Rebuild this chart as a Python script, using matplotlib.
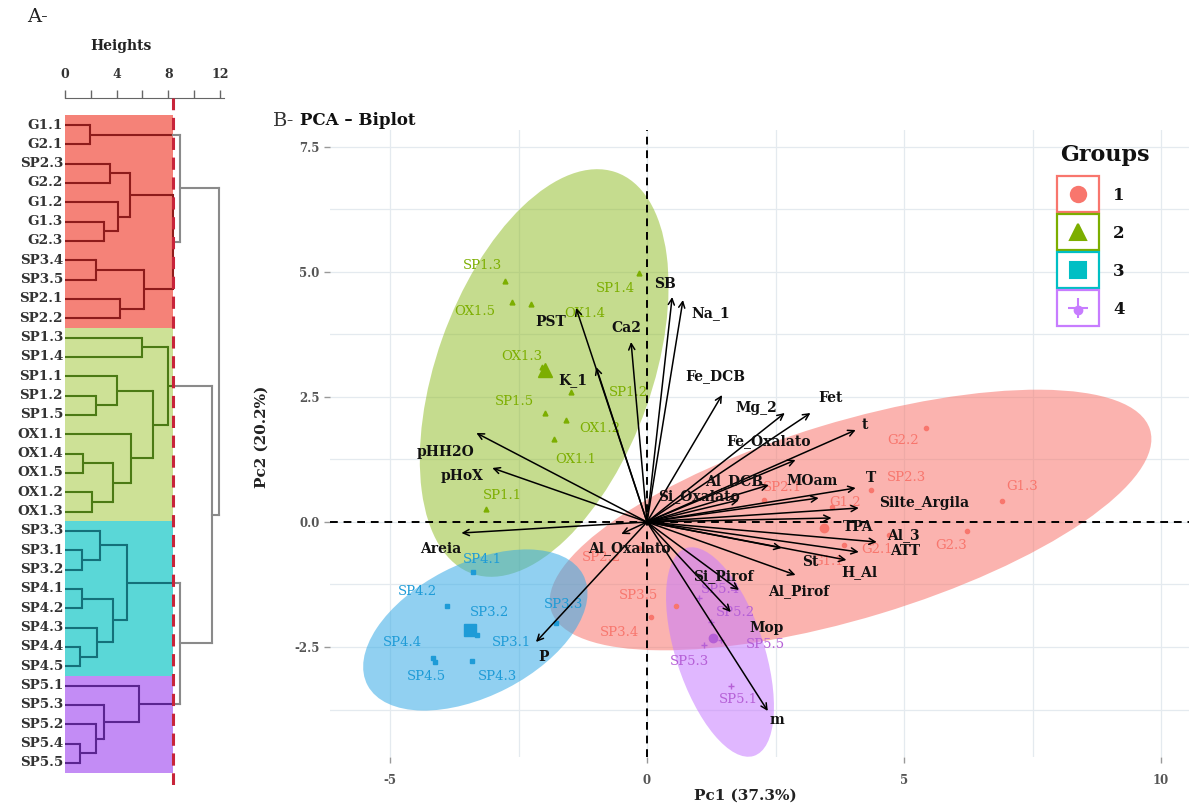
import matplotlib
matplotlib.use('Agg')
import matplotlib.pyplot as plt
from matplotlib.patches import Ellipse, Rectangle
import numpy as np

plt.rcParams['axes.unicode_minus'] = False
W, H = 1189, 809
fig = plt.figure(figsize=(W / 100, H / 100), dpi=100)
SERIF = ['DejaVu Serif']

# ------------------------------------------------------------------ data: dendrogram
leaf_order = ['G1.1', 'G2.1', 'SP2.3', 'G2.2', 'G1.2', 'G1.3', 'G2.3', 'SP3.4', 'SP3.5',
              'SP2.1', 'SP2.2',
              'SP1.3', 'SP1.4', 'SP1.1', 'SP1.2', 'SP1.5', 'OX1.1', 'OX1.4', 'OX1.5',
              'OX1.2', 'OX1.3',
              'SP3.3', 'SP3.1', 'SP3.2', 'SP4.1', 'SP4.2', 'SP4.3', 'SP4.4', 'SP4.5',
              'SP5.1', 'SP5.3', 'SP5.2', 'SP5.4', 'SP5.5']
leaf_group = [1] * 11 + [2] * 10 + [3] * 8 + [4] * 5

# nested merges: (left, right, height)
tree_red = (('G1.1', 'G2.1', 1.9),
            ((('SP2.3', 'G2.2', 3.5), ('G1.2', ('G1.3', 'G2.3', 3.0), 4.1), 5.0),
             (('SP3.4', 'SP3.5', 2.4), ('SP2.1', 'SP2.2', 4.3), 6.1), 8.35),
            8.9)
tree_green = (('SP1.3', 'SP1.4', 6.0),
              (('SP1.1', ('SP1.2', 'SP1.5', 2.4), 4.0),
               ('OX1.1', (('OX1.4', 'OX1.5', 1.4), ('OX1.2', 'OX1.3', 2.1), 3.7), 5.1),
               6.8),
              8.0)
tree_cyan = (('SP3.3', ('SP3.1', 'SP3.2', 1.3), 2.7),
             (('SP4.1', 'SP4.2', 1.3), ('SP4.3', ('SP4.4', 'SP4.5', 1.2), 2.5), 3.7),
             4.8)
tree_purple = ('SP5.1', ('SP5.3', ('SP5.2', ('SP5.4', 'SP5.5', 1.2), 2.4), 3.0), 5.75)
tree_root = (tree_red, (tree_green, (tree_cyan, tree_purple, 8.9), 11.4), 11.9)

cut_height = 8.35
height_ticks = [0, 2, 4, 6, 8, 10, 12]
height_ticklabels = ['0', '', '4', '', '8', '', '12']

# ------------------------------------------------------------------ data: PCA individuals
g1_names = ['G1.1', 'G2.1', 'SP2.3', 'G2.2', 'G1.2', 'G1.3', 'G2.3', 'SP3.4', 'SP3.5', 'SP2.1', 'SP2.2']
g1_pc1 = [3.83, 4.70, 4.35, 5.42, 3.60, 6.91, 6.23, 0.08, 0.56, 2.27, -0.16]
g1_pc2 = [-0.46, -0.26, 0.64, 1.88, 0.30, 0.42, -0.18, -1.90, -1.68, 0.44, -0.52]

g2_names = ['SP1.3', 'OX1.5', 'OX1.4', 'SP1.4', 'OX1.3', 'SP1.2', 'SP1.5', 'OX1.2', 'OX1.1', 'SP1.1']
g2_pc1 = [-2.76, -2.62, -2.25, -0.16, -2.04, -1.48, -1.98, -1.57, -1.81, -3.13]
g2_pc2 = [4.82, 4.40, 4.36, 4.98, 3.10, 2.60, 2.18, 2.04, 1.66, 0.26]

g3_names = ['SP4.1', 'SP4.2', 'SP3.2', 'SP3.1', 'SP4.4', 'SP4.5', 'SP4.3', 'SP3.3']
g3_pc1 = [-3.38, -3.90, -3.50, -3.30, -4.17, -4.12, -3.40, -1.77]
g3_pc2 = [-1.00, -1.68, -2.10, -2.26, -2.72, -2.80, -2.78, -2.02]

g4_names = ['SP5.4', 'SP5.2', 'SP5.5', 'SP5.3', 'SP5.1']
g4_pc1 = [1.01, 1.24, 1.44, 1.11, 1.63]
g4_pc2 = [-1.52, -2.00, -2.36, -2.46, -3.28]

# confidence ellipses: centre x, centre y, width, height, angle
ell_cx = [3.96, -2.00, -3.34, 1.42]
ell_cy = [0.04, 2.98, -2.16, -2.60]
ell_w = [12.2, 8.5, 4.74, 4.36]
ell_h = [3.92, 4.2, 2.64, 1.72]
ell_angle = [17.3, 71.0, 28.0, -72.5]

# ------------------------------------------------------------------ data: PCA variables
var_names = ['SB', 'Na_1', 'Ca2', 'PST', 'K_1', 'pHH2O', 'pHoX', 'Areia', 'Al_Oxalato', 'P',
             'Fe_DCB', 'Mg_2', 'Fet', 't', 'Fe_Oxalato', 'Al_DCB', 'MOam', 'T', 'Si_Oxalato',
             'Silte_Argila', 'TPA', 'Al_3', 'ATT', 'H_Al', 'St', 'Si_Pirof', 'Al_Pirof', 'Mop', 'm']
var_pc1 = [0.49, 0.70, -0.31, -1.38, -0.99, -3.32, -3.01, -3.61, -0.50, -2.16,
           1.46, 2.68, 3.18, 4.06, 2.89, 2.37, 3.34, 4.06, 1.79,
           4.12, 3.59, 4.47, 4.12, 3.88, 2.62, 2.89, 1.79, 1.63, 2.35]
var_pc2 = [4.50, 4.44, 3.60, 4.28, 3.10, 1.78, 1.08, -0.22, -0.24, -2.40,
           2.54, 2.18, 2.18, 1.84, 1.24, 0.74, 0.48, 0.68, 0.44,
           0.28, 0.08, -0.40, -0.60, -0.76, -0.52, -1.06, -1.36, -1.80, -3.78]

pc_xticks = [-5, 0, 5, 10]
pc_yticks = [-2.5, 0.0, 2.5, 5.0, 7.5]

# ------------------------------------------------------------------ layout / style
# label offsets (pixels, y up) for repelled text
var_off = {'SB': (-7, 13), 'Na_1': (28, -13), 'Ca2': (-5, 14), 'PST': (-25, -14),
           'K_1': (-23, -13), 'pHH2O': (-31, -19), 'pHoX': (-30, -8), 'Areia': (-21, -16),
           'Al_Oxalato': (8, -14), 'P': (8, -15), 'Fe_DCB': (-7, 19), 'Mg_2': (-28, 5),
           'Fet': (20, 15), 't': (9, 5), 'Fe_Oxalato': (-27, 19), 'Al_DCB': (-35, 4),
           'MOam': (-7, 17), 'T': (15, 10), 'Si_Oxalato': (-40, 4), 'Silte_Argila': (65, 5),
           'TPA': (27, -9), 'Al_3': (27, 7), 'ATT': (46, 1), 'H_Al': (13, -12),
           'St': (29, -14), 'Si_Pirof': (-72, -1), 'Al_Pirof': (60, -1), 'Mop': (36, -16),
           'm': (9, -9)}
ind_off = {'SP1.3': (-23, 15), 'OX1.5': (-38, -10), 'OX1.4': (53, -10), 'SP1.4': (-23, -16),
           'OX1.3': (-20, 10), 'SP1.2': (58, -1), 'SP1.5': (-31, 11), 'OX1.2': (33, -9),
           'OX1.1': (22, -21), 'SP1.1': (16, 13),
           'G2.2': (-23, -13), 'SP2.3': (36, 12), 'G1.3': (20, 14), 'G2.3': (-16, -15),
           'G1.2': (13, 4), 'G1.1': (-16, -17), 'G2.1': (-12, -15), 'SP2.1': (19, 12),
           'SP2.2': (-37, -10), 'SP3.4': (-32, -16), 'SP3.5': (-37, 10),
           'SP4.1': (9, 12), 'SP4.2': (-29, 14), 'SP3.2': (22, 14), 'SP3.1': (34, -8),
           'SP4.4': (-30, 15), 'SP4.5': (-9, -15), 'SP4.3': (25, -16), 'SP3.3': (8, 18),
           'SP5.4': (22, 8), 'SP5.2': (25, 9), 'SP5.5': (44, -5), 'SP5.3': (-15, -17),
           'SP5.1': (8, -14)}

rect_col = {1: '#F58278', 2: '#CDE196', 3: '#5AD7D7', 4: '#C38CF5'}
branch_col = {1: '#8E1B1B', 2: '#4B7A14', 3: '#14707A', 4: '#5A2590'}
grey = '#8a8a8a'
pca_col = {1: '#F8766D', 2: '#7CAE00', 3: '#1E9BD7', 4: '#B55FD6'}
ell_col = ['#F8766D', '#8DBA1E', '#37ABE6', '#C77CFF']
ell_alpha = [0.55, 0.5, 0.55, 0.55]
leg_col = ['#F8766D', '#7CAE00', '#00BFC4', '#C77CFF']
markers = {1: 'o', 2: '^', 3: 's', 4: '+'}

# ------------------------------------------------------------------ dendrogram
d_left, d_right, d_top, d_bot = 65, 225, 98, 785
y0_px, dy_px = 125, 19.33
ax_d = fig.add_axes([d_left / W, 1 - d_bot / H, (d_right - d_left) / W, (d_bot - d_top) / H])
ax_d.set_xlim(0, (d_right - d_left) / 12.9)
ax_d.set_ylim((d_bot - y0_px) / dy_px, (d_top - y0_px) / dy_px)

for g in (1, 2, 3, 4):
    idx = [i for i, gg in enumerate(leaf_group) if gg == g]
    ax_d.add_patch(Rectangle((0, min(idx) - 0.5), cut_height, len(idx),
                             facecolor=rect_col[g], edgecolor='none', zorder=1))


def groups_of(leaves):
    return {leaf_group[leaf_order.index(n)] for n in leaves}


def draw(node):
    if isinstance(node, str):
        return 0.0, float(leaf_order.index(node)), [node]
    l, r, h = node
    out = [draw(l), draw(r)]
    leaves = out[0][2] + out[1][2]
    for hc, yc, lv in out:
        gs = groups_of(lv)
        if len(gs) == 1 and hc < cut_height:
            g = next(iter(gs))
            top = min(h, cut_height)
            ax_d.plot([hc, top], [yc, yc], color=branch_col[g], lw=1.5, zorder=3,
                      solid_capstyle='butt')
            if h > cut_height:
                ax_d.plot([cut_height, h], [yc, yc], color=grey, lw=1.5, zorder=3)
        else:
            ax_d.plot([hc, h], [yc, yc], color=grey, lw=1.5, zorder=3)
    gs = groups_of(leaves)
    vc = branch_col[next(iter(gs))] if (len(gs) == 1 and h <= cut_height) else grey
    ax_d.plot([h, h], [out[0][1], out[1][1]], color=vc, lw=1.5, zorder=3)
    return h, (out[0][1] + out[1][1]) / 2, leaves


draw(tree_root)
ax_d.axvline(cut_height, color='#C8243A', lw=2.2, ls=(0, (4, 2.5)), zorder=4)

for s in ('left', 'right', 'bottom'):
    ax_d.spines[s].set_visible(False)
ax_d.spines['top'].set_color('#666666')
ax_d.spines['top'].set_bounds(0, 12.3)
ax_d.xaxis.tick_top()
ax_d.set_xticks(height_ticks)
ax_d.set_xticklabels(height_ticklabels)
ax_d.tick_params(axis='x', length=6, width=1, colors='#666666', labelcolor='#333333',
                 labelsize=9, pad=6)
for t in ax_d.get_xticklabels():
    t.set_family(SERIF)
    t.set_fontweight('bold')
ax_d.set_yticks([])
ax_d.patch.set_alpha(0)
for i, name in enumerate(leaf_order):
    ax_d.text(-0.15, i, name, ha='right', va='center', fontsize=9.7, fontweight='bold',
              family=SERIF, color='#333333', clip_on=False)

# ------------------------------------------------------------------ PCA biplot
x0, sx, y0, sy = 647, 51.4, 522, 50.0
p_left, p_right, p_top, p_bot = 330, 1189, 130, 757
ax = fig.add_axes([p_left / W, 1 - p_bot / H, (p_right - p_left) / W, (p_bot - p_top) / H])
ax.set_xlim((p_left - x0) / sx, (p_right - x0) / sx)
ax.set_ylim((y0 - p_bot) / sy, (y0 - p_top) / sy)
for s in ax.spines.values():
    s.set_visible(False)
ax.set_xticks(pc_xticks)
ax.set_xticks([-2.5, 2.5, 7.5], minor=True)
ax.set_yticks(pc_yticks)
ax.set_yticks([-3.75, -1.25, 1.25, 3.75, 6.25], minor=True)
ax.set_yticklabels([f'{v:.1f}' for v in pc_yticks])
ax.grid(True, which='both', color='#e4eaef', lw=0.9, zorder=0)
ax.set_axisbelow(True)
ax.tick_params(which='major', length=4, width=1, colors='#999999', labelcolor='#555555',
               labelsize=8.5)
ax.tick_params(axis='x', which='major', pad=8)
ax.tick_params(which='minor', length=0)
for t in ax.get_xticklabels() + ax.get_yticklabels():
    t.set_family(SERIF)
    t.set_fontweight('bold')

for k in range(4):
    ax.add_patch(Ellipse((ell_cx[k], ell_cy[k]), ell_w[k], ell_h[k], angle=ell_angle[k],
                         facecolor=ell_col[k], edgecolor='none', alpha=ell_alpha[k], zorder=1))

ax.axhline(0, color='black', lw=1.4, ls=(0, (4, 3)), zorder=2)
ax.axvline(0, color='black', lw=1.4, ls=(0, (4, 3)), zorder=2)

groups = [(1, g1_names, g1_pc1, g1_pc2), (2, g2_names, g2_pc1, g2_pc2),
          (3, g3_names, g3_pc1, g3_pc2), (4, g4_names, g4_pc1, g4_pc2)]
msize = {1: 3, 2: 3.5, 3: 3, 4: 5}
csize = {1: 6, 2: 10, 3: 8, 4: 6}
for g, names, xs, ys in groups:
    ax.plot(xs, ys, ls='none', marker=markers[g], ms=msize[g], color=pca_col[g],
            mew=1.0, zorder=3)
    ax.plot([np.mean(xs)], [np.mean(ys)], ls='none',
            marker=markers[g] if g != 4 else 'o', ms=csize[g], color=pca_col[g], zorder=3)
    for n, xv, yv in zip(names, xs, ys):
        ax.annotate(n, (xv, yv), xytext=ind_off[n], textcoords='offset pixels',
                    ha='center', va='center', fontsize=9.5, family=SERIF,
                    color=pca_col[g], zorder=4)

for n, xv, yv in zip(var_names, var_pc1, var_pc2):
    ax.annotate('', xy=(xv, yv), xytext=(0, 0),
                arrowprops=dict(arrowstyle='->', color='black', lw=1.1, mutation_scale=11,
                                shrinkA=0, shrinkB=0), zorder=5)
for n, xv, yv in zip(var_names, var_pc1, var_pc2):
    ax.annotate(n, (xv, yv), xytext=var_off[n], textcoords='offset pixels',
                ha='center', va='center', fontsize=10, fontweight='bold', family=SERIF,
                color='#111111', zorder=6)

# ------------------------------------------------------------------ overlay texts & legend
ov = fig.add_axes([0, 0, 1, 1])
ov.set_xlim(0, W)
ov.set_ylim(H, 0)
ov.axis('off')
ov.patch.set_alpha(0)
ov.text(27, 17, 'A-', fontsize=14, family=SERIF, color='#222222', ha='left', va='center')
ov.text(121, 46, 'Heights', fontsize=10, fontweight='bold', family=SERIF, color='#222222',
        ha='center', va='center')
ov.text(273, 121, 'B-', fontsize=14, family=SERIF, color='#333333', ha='left', va='center')
ov.text(300, 120, 'PCA \u2013 Biplot', fontsize=12, fontweight='bold', family=SERIF,
        color='#111111', ha='left', va='center')
ov.text(745, 796, 'Pc1 (37.3%)', fontsize=11, fontweight='bold', family=SERIF,
        color='#222222', ha='center', va='center')
ov.text(262, 437, 'Pc2 (20.2%)', fontsize=11, fontweight='bold', family=SERIF,
        color='#222222', ha='center', va='center', rotation=90)

ov.text(1105, 155, 'Groups', fontsize=16, fontweight='bold', family=SERIF, color='#111111',
        ha='center', va='center')
box_tops = [176, 214, 252, 290]
leg_marker = ['o', '^', 's', '+']
for k in range(4):
    t0 = box_tops[k]
    ov.add_patch(Rectangle((1057, t0), 42, 36, facecolor='white', edgecolor=leg_col[k],
                           lw=1.6))
    ov.plot([1078], [t0 + 18], marker=leg_marker[k], ms=11 if k != 3 else 14,
            color=leg_col[k], mew=1.5, ls='none')
    if k == 3:
        ov.plot([1078], [t0 + 20], marker='o', ms=6, color=leg_col[k], ls='none')
    ov.text(1119, t0 + 19, str(k + 1), fontsize=12, fontweight='bold', family=SERIF,
            color='#111111', ha='center', va='center')

fig.savefig('out.png', dpi=100)
